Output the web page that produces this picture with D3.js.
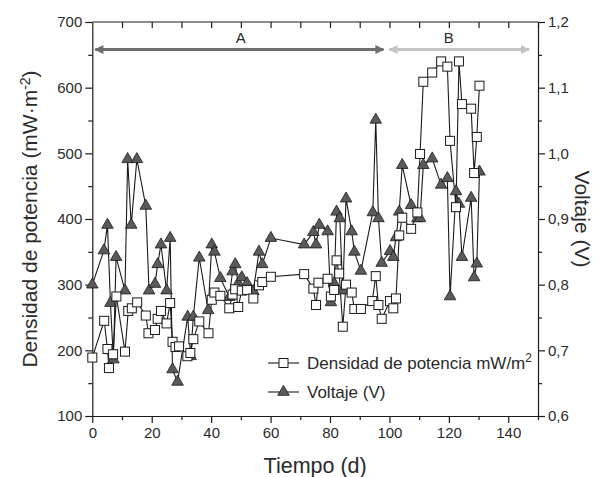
<!DOCTYPE html>
<html><head><meta charset="utf-8">
<script src="https://cdn.jsdelivr.net/npm/d3@7"></script>
<style>
html,body{margin:0;padding:0;background:#fff;}
svg{display:block;font-family:"Liberation Sans",Arial,sans-serif;}
</style></head>
<body>
<svg id="chart" width="604" height="477"></svg>
<script>
// ---- data ----
const daysPower = [0,4,5.1,5.6,7,8.1,11,12.1,13.3,15.1,18,18.9,21.1,22,23.1,25,26.2,27,28,29.2,32,33,34,36,39.1,40.2,41.1,43.1,46.1,47.2,48.1,49.1,50.3,52.1,54.2,56.1,57.2,60.1,71.3,74.4,75.3,76.1,79.2,80.3,81.4,82.2,83.1,84.3,85.4,87.3,88.2,90.4,94.2,95.4,96.3,97.4,100.2,101.3,102.2,103.3,104.3,107.3,109.4,110.3,111.4,114.4,117.4,119.5,120.4,122.4,123.4,124.4,127.5,128.5,129.4,130.3];
const power = [189,245,202,173,194,282,198,260,264,273,253,226,231,248,260,241,272,213,205,206,191,196,217,244,226,277,288,283,264,285,293,266,291,292,279,299,304,312,316,294,269,303,309,282,292,337,317,236,300,288,263,263,275,313,269,248,275,264,279,375,402,385,410,499,609,623,640,632,519,418,640,575,568,470,525,603];
const daysVolt = [0,3.9,5.1,6.1,7.1,8,11,11.9,13.1,15,18,19.1,21.1,22,23.1,25,26.2,27,28.7,32.1,33.1,34,36,39,40.2,41.1,43.1,46.1,47.2,48.1,49.1,50.3,52.1,54.2,56.1,57.2,60.1,71.3,74.4,75.3,76.4,79.2,80.3,81.4,82.2,83.3,84.3,85.4,87.3,88.2,90.4,94.4,95.4,96.3,97.4,100.2,101.3,102.2,103.3,104.3,107.3,109.4,110.3,111.4,114.4,117.4,119.5,120.4,122.4,123.4,124.4,127.5,128.5,129.4,130.3];
const voltage = [0.80,0.852,0.891,0.772,0.686,0.842,0.791,0.991,0.891,0.991,0.920,0.791,0.801,0.831,0.861,0.791,0.871,0.671,0.652,0.751,0.691,0.751,0.841,0.761,0.861,0.850,0.810,0.781,0.820,0.831,0.802,0.811,0.802,0.790,0.850,0.831,0.871,0.861,0.880,0.861,0.891,0.881,0.773,0.802,0.911,0.901,0.791,0.931,0.881,0.850,0.821,0.910,1.051,0.901,0.833,0.851,0.842,0.872,0.911,0.982,0.921,0.901,0.901,0.982,0.992,0.952,0.962,0.782,0.942,0.923,0.842,0.932,0.811,0.832,0.972];
const xTicks = [0,20,40,60,80,100,120,140];
const yLeftTicks = [100,200,300,400,500,600,700];
const yRightTicks = [0.6,0.7,0.8,0.9,1.0,1.1,1.2];
const phaseLabels = ["A","B"];
const phaseStart = [1,100];
const phaseEnd = [98,147];
const legendLabels = ["Densidad de potencia mW/m","Voltaje (V)"];

// ---- layout ----
const svg = d3.select("#chart");
const L = 92.3, R = 538, T = 22, B = 416;
const x = d3.scaleLinear().domain([0,150]).range([L,R]);
const yL = d3.scaleLinear().domain([100,700]).range([B,T]);
const yR = d3.scaleLinear().domain([0.6,1.2]).range([B,T]);
const ink = "#1a1a1a";
const txt = "#2a2a2a";
const fmtComma = d => d3.format(".1f")(d).replace(".",",");

function styleAxis(g){
  g.selectAll(".domain").attr("stroke",ink).attr("stroke-width",1.2);
  g.selectAll(".tick line").attr("stroke",ink).attr("stroke-width",1.2);
  g.selectAll(".tick text").attr("fill",txt).attr("font-size",15);
}
function minor(g, axis){ g.call(axis); g.selectAll("text").remove(); g.select(".domain").remove(); g.selectAll("line").attr("stroke",ink).attr("stroke-width",1.2); }

// bottom
svg.append("g").attr("transform",`translate(0,${B})`).call(g=>minor(g,d3.axisBottom(x).tickValues(d3.range(10,151,20)).tickSize(4)));
svg.append("g").attr("transform",`translate(0,${B})`)
  .call(d3.axisBottom(x).tickValues(xTicks).tickSize(7).tickSizeOuter(0).tickPadding(4)).call(styleAxis);
// top
svg.append("g").attr("transform",`translate(0,${T})`).call(g=>minor(g,d3.axisBottom(x).tickValues(d3.range(10,151,10)).tickSize(6)));
svg.append("line").attr("x1",L).attr("x2",R).attr("y1",T).attr("y2",T).attr("stroke",ink).attr("stroke-width",1.2);
// left
svg.append("g").attr("transform",`translate(${L},0)`).call(g=>minor(g,d3.axisLeft(yL).tickValues(d3.range(150,700,100)).tickSize(4)));
svg.append("g").attr("transform",`translate(${L},0)`)
  .call(d3.axisLeft(yL).tickValues(yLeftTicks).tickSize(7).tickSizeOuter(0).tickPadding(3)).call(styleAxis);
// right
svg.append("g").attr("transform",`translate(${R},0)`).call(g=>minor(g,d3.axisRight(yR).tickValues(d3.range(0.65,1.2,0.1)).tickSize(4)));
svg.append("g").attr("transform",`translate(${R},0)`)
  .call(d3.axisRight(yR).tickValues(yRightTicks).tickFormat(fmtComma).tickSize(7).tickSizeOuter(0).tickPadding(3)).call(styleAxis);

// axis titles
svg.append("text").attr("x",(L+R)/2).attr("y",473).attr("text-anchor","middle")
  .attr("font-size",21.5).attr("fill",txt).text("Tiempo (d)");
svg.append("text").attr("transform",`translate(37,${(T+B)/2}) rotate(-90)`).attr("text-anchor","middle")
  .attr("font-size",21).attr("fill",txt)
  .html('Densidad de potencia (mW·m<tspan dy="-7" font-size="14">-2</tspan><tspan dy="7">)</tspan>');
svg.append("text").attr("transform",`translate(575,${(T+B)/2}) rotate(90)`).attr("text-anchor","middle")
  .attr("font-size",21).attr("fill",txt).text("Voltaje (V)");

// phase arrows
const defs = svg.append("defs");
[["arrA","#6e6e6e"],["arrB","#c4c4c4"]].forEach(([id,c])=>{
  defs.append("marker").attr("id",id).attr("viewBox","0 0 10 10").attr("refX",9).attr("refY",5)
    .attr("markerWidth",4).attr("markerHeight",3).attr("orient","auto-start-reverse")
    .attr("markerUnits","strokeWidth")
    .append("path").attr("d","M0,0 L10,5 L0,10 z").attr("fill",c);
});
const arrowY = yL(658);
phaseLabels.forEach((lab,i)=>{
  const c = i===0?"#6e6e6e":"#c4c4c4";
  svg.append("line").attr("x1",x(phaseStart[i])).attr("x2",x(phaseEnd[i]))
    .attr("y1",arrowY).attr("y2",arrowY).attr("stroke",c).attr("stroke-width",3)
    .attr("marker-start",`url(#arr${lab})`).attr("marker-end",`url(#arr${lab})`);
  svg.append("text").attr("x",i===0?x(50):x(120)).attr("y",arrowY-7).attr("text-anchor","middle")
    .attr("font-size",15).attr("fill",txt).text(lab);
});

// series
const pData = daysPower.map((d,i)=>[d,power[i]]);
const vData = daysVolt.map((d,i)=>[d,voltage[i]]);
svg.append("path").datum(pData).attr("fill","none").attr("stroke",ink).attr("stroke-width",1.1)
  .attr("d",d3.line().x(d=>x(d[0])).y(d=>yL(d[1])));
svg.append("path").datum(vData).attr("fill","none").attr("stroke",ink).attr("stroke-width",1.1)
  .attr("d",d3.line().x(d=>x(d[0])).y(d=>yR(d[1])));

const tri = d3.symbol().type(d3.symbolTriangle).size(58);
svg.append("g").selectAll("path").data(vData).join("path")
  .attr("transform",d=>`translate(${x(d[0])},${yR(d[1])})`).attr("d",tri)
  .attr("fill","#5a5a5a").attr("stroke",ink).attr("stroke-width",0.8);
svg.append("g").selectAll("rect").data(pData).join("rect")
  .attr("x",d=>x(d[0])-4.5).attr("y",d=>yL(d[1])-4.5).attr("width",9).attr("height",9)
  .attr("fill","#fff").attr("stroke",ink).attr("stroke-width",1);

// legend
const lg = svg.append("g");
[363,392].forEach((ly,i)=>{
  lg.append("line").attr("x1",268).attr("x2",299).attr("y1",ly).attr("y2",ly).attr("stroke",ink).attr("stroke-width",1.1);
  if(i===0){
    lg.append("rect").attr("x",283.5-4.5).attr("y",ly-4.5).attr("width",9).attr("height",9).attr("fill","#fff").attr("stroke",ink);
    lg.append("text").attr("x",307).attr("y",ly+6).attr("font-size",17).attr("fill",txt)
      .html(legendLabels[0]+'<tspan dy="-7" font-size="12">2</tspan>');
  } else {
    lg.append("path").attr("transform",`translate(283.5,${ly})`).attr("d",tri).attr("fill","#5a5a5a").attr("stroke",ink).attr("stroke-width",0.8);
    lg.append("text").attr("x",307).attr("y",ly+6).attr("font-size",17).attr("fill",txt).text(legendLabels[1]);
  }
});
</script>
</body></html>
